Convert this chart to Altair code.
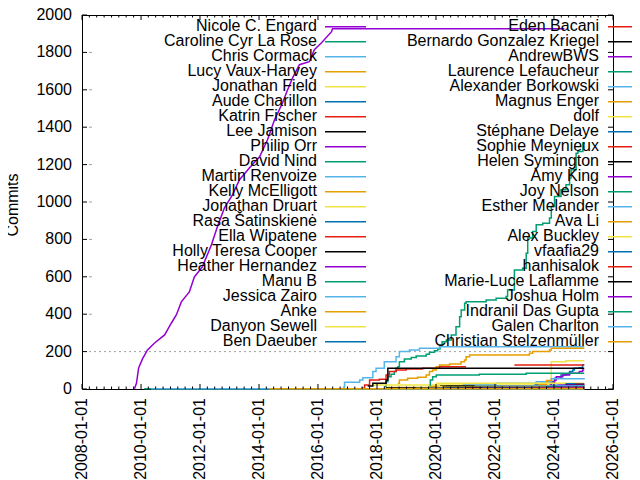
import altair as alt
import pandas as pd

# ---------------- data ----------------
NAMES = [
    "Nicole C. Engard", "Caroline Cyr La Rose", "Chris Cormack", "Lucy Vaux-Harvey",
    "Jonathan Field", "Aude Charillon", "Katrin Fischer", "Lee Jamison", "Philip Orr",
    "David Nind", "Martin Renvoize", "Kelly McElligott", "Jonathan Druart",
    "Rasa Šatinskienė", "Ella Wipatene", "Holly Teresa Cooper", "Heather Hernandez",
    "Manu B", "Jessica Zairo", "Anke", "Danyon Sewell", "Ben Daeuber",
    "Eden Bacani", "Bernardo Gonzalez Kriegel", "AndrewBWS", "Laurence Lefaucheur",
    "Alexander Borkowski", "Magnus Enger", "dolf", "Stéphane Delaye", "Sophie Meynieux",
    "Helen Symington", "Amy King", "Joy Nelson", "Esther Melander", "Ava Li",
    "Alex Buckley", "vfaafia29", "hanhisalok", "Marie-Luce Laflamme", "Joshua Holm",
    "Indranil Das Gupta", "Galen Charlton", "Christian Stelzenmüller",
]
PALETTE = ["#9400d3", "#009e73", "#56b4e9", "#e69f00",
           "#f0e442", "#0072b2", "#e51e10", "#000000"]

s_nicole = [("2009-10-12", 1), ("2009-11-06", 32), ("2009-12-02", 112), ("2010-01-19", 161),
            ("2010-03-22", 209), ("2010-06-18", 246), ("2010-10-20", 289), ("2011-01-12", 353),
            ("2011-03-14", 396), ("2011-05-15", 466), ("2011-08-22", 519), ("2011-10-23", 599),
            ("2012-01-30", 653), ("2012-05-22", 771), ("2012-08-03", 867), ("2012-10-30", 969),
            ("2013-02-06", 1038), ("2013-05-04", 1119), ("2013-09-06", 1183), ("2014-01-08", 1242),
            ("2014-04-16", 1333), ("2014-07-12", 1440), ("2014-10-20", 1531), ("2014-12-06", 1584),
            ("2015-02-21", 1664), ("2015-05-16", 1734), ("2015-09-16", 1750), ("2015-11-17", 1814),
            ("2016-02-14", 1852), ("2016-06-17", 1911), ("2016-06-29", 1927), ("2024-05-10", 1927)]
s_caroline = [("2018-04-01", 12), ("2018-04-23", 39), ("2018-05-15", 66), ("2018-06-24", 79),
              ("2018-08-03", 93), ("2018-08-25", 111), ("2018-09-16", 119), ("2018-10-05", 146),
              ("2018-12-06", 161), ("2019-03-01", 168), ("2019-05-01", 177), ("2019-09-02", 186),
              ("2019-10-12", 196), ("2019-12-13", 205), ("2020-01-22", 214), ("2020-02-20", 235),
              ("2020-03-17", 253), ("2020-05-08", 262), ("2020-07-08", 289), ("2020-09-05", 333),
              ("2020-10-20", 387), ("2020-11-08", 423), ("2020-12-21", 459), ("2021-01-08", 467),
              ("2021-09-13", 476), ("2022-01-15", 485), ("2022-05-18", 494), ("2022-06-06", 530),
              ("2022-08-29", 637), ("2022-12-09", 646), ("2023-01-22", 726), ("2023-02-10", 807),
              ("2023-04-12", 842), ("2023-05-26", 878), ("2023-08-15", 887), ("2023-11-07", 914),
              ("2023-11-29", 976), ("2024-01-08", 1029), ("2024-03-28", 1065), ("2024-05-29", 1092),
              ("2024-07-12", 1128), ("2024-07-31", 1172), ("2024-10-01", 1261), ("2024-10-23", 1270),
              ("2024-12-24", 1315), ("2025-01-10", 1317)]
s_chris = [("2016-11-03", 9), ("2016-11-25", 36), ("2017-05-31", 48), ("2017-07-09", 60),
           ("2017-11-10", 93), ("2017-12-20", 111), ("2018-04-01", 146), ("2018-08-25", 173),
           ("2018-10-05", 200), ("2019-02-06", 209), ("2019-06-10", 218), ("2020-02-14", 226),
           ("2025-01-10", 226)]
s_lucy = [("2018-09-16", 31), ("2018-10-05", 48), ("2019-01-15", 57), ("2019-05-18", 63),
          ("2019-09-02", 75), ("2019-10-12", 93), ("2019-11-21", 102), ("2020-01-04", 119),
          ("2020-02-14", 128), ("2020-06-17", 134), ("2020-11-06", 146), ("2020-12-20", 155),
          ("2021-01-08", 173), ("2021-02-20", 182), ("2023-03-03", 191), ("2023-04-12", 200),
          ("2023-11-07", 209), ("2023-11-29", 218), ("2025-01-10", 218)]
s_jfield = [("2017-11-10", 21), ("2023-11-29", 146), ("2024-05-29", 151), ("2025-01-10", 151)]
s_aude = [("2023-05-04", 21), ("2023-07-26", 31), ("2023-11-29", 39), ("2024-01-08", 57),
          ("2024-03-28", 75), ("2024-05-29", 79), ("2024-07-12", 93), ("2024-08-21", 102),
          ("2024-09-09", 111), ("2024-11-10", 114), ("2024-12-20", 130), ("2025-01-10", 130)]
s_katrin = [("2017-06-17", 4), ("2017-07-31", 21), ("2017-10-01", 48), ("2018-01-30", 52),
            ("2018-04-23", 75), ("2018-06-03", 93), ("2018-08-25", 102), ("2018-12-28", 107),
            ("2019-07-20", 111), ("2020-02-14", 119), ("2021-01-08", 119)]
s_katrin_late = [("2022-08-29", 128), ("2025-01-10", 128)]
s_lee = [("2017-09-08", 16), ("2017-11-10", 31), ("2018-04-23", 48), ("2018-05-15", 111),
         ("2025-01-10", 111)]
s_philip = [("2023-11-07", 21), ("2023-11-29", 31), ("2024-01-08", 48), ("2024-01-30", 66),
            ("2024-04-20", 75), ("2024-07-12", 84), ("2024-11-10", 93), ("2024-12-20", 102),
            ("2025-01-10", 102)]
s_david = [("2019-10-12", 12), ("2019-10-23", 48), ("2019-11-21", 66), ("2020-01-04", 75),
           ("2021-06-20", 79), ("2023-01-22", 84), ("2025-01-10", 84)]
s_martin = [("2020-11-28", 21), ("2022-01-15", 31), ("2023-05-26", 39), ("2023-11-29", 55),
            ("2025-01-10", 57)]
s_kelly = [("2023-04-10", 8), ("2023-07-01", 25), ("2023-10-01", 45), ("2023-12-15", 45)]
s_jdruart = [("2019-10-20", 10), ("2020-01-10", 31), ("2025-01-10", 31)]
s_rasa = [("2023-06-01", 5), ("2023-12-01", 20), ("2024-06-01", 28), ("2025-01-10", 28)]
s_ella = [("2023-05-01", 3), ("2024-02-01", 15), ("2024-10-01", 26), ("2025-01-10", 26)]
s_holly = [("2019-10-20", 3), ("2020-03-01", 17), ("2024-06-01", 22), ("2025-01-10", 22)]
s_heather = [("2019-11-01", 4), ("2020-06-01", 10), ("2022-01-01", 15), ("2024-03-01", 20),
             ("2025-01-10", 20)]
s_manu = [("2024-02-01", 6), ("2024-09-01", 18), ("2025-01-10", 18)]
s_jessica = [("2019-10-01", 2), ("2020-03-01", 12), ("2021-05-01", 16), ("2025-01-10", 16)]
s_anke = [("2017-02-01", 2), ("2018-05-01", 8), ("2019-11-01", 14), ("2020-05-01", 14)]
s_danyon = [("2019-11-01", 4), ("2020-02-01", 13), ("2023-12-01", 13)]
s_ben = [("2023-01-01", 3), ("2023-10-01", 12), ("2025-01-10", 12)]
s_eden = [("2023-04-01", 2), ("2024-05-01", 11), ("2025-01-10", 11)]
s_bernardo = [("2019-09-15", 4), ("2020-04-01", 10), ("2025-01-10", 10)]
s_andrew = [("2023-09-01", 3), ("2024-04-01", 9), ("2025-01-10", 9)]
s_laurence = [("2022-10-01", 2), ("2023-10-01", 8), ("2025-01-10", 8)]
s_alexander = [("2020-12-01", 3), ("2021-06-01", 8), ("2025-01-10", 8)]
s_magnus = [("2017-03-01", 2), ("2019-12-01", 7), ("2020-09-01", 7)]
s_dolf = [("2018-06-01", 3), ("2019-06-01", 6), ("2019-08-01", 6)]
s_stephane = [("2024-01-15", 6), ("2025-01-10", 6)]
s_sophie = [("2019-11-15", 2), ("2020-02-15", 5), ("2025-01-10", 5)]
s_helen = [("2017-11-01", 2), ("2018-05-01", 5), ("2025-01-10", 5)]
s_amy = [("2023-11-01", 4), ("2025-01-10", 4)]
s_joy = [("2019-10-10", 4), ("2021-01-10", 4)]
s_esther = [("2021-08-01", 3), ("2025-01-10", 3)]
s_ava = [("2024-04-01", 3), ("2025-01-10", 3)]
s_alexb = [("2019-05-01", 3), ("2020-05-01", 3)]
s_vfaafia = [("2023-05-01", 2), ("2025-01-10", 2)]
s_hanhi = [("2023-05-01", 4), ("2025-01-10", 4)]
s_marieluce = [("2020-01-01", 2), ("2025-01-10", 2)]
s_joshua = [("2019-11-01", 3), ("2025-01-10", 3)]
s_indranil = [("2010-02-10", 1), ("2025-01-10", 1)]
s_galen = [("2010-05-05", 1), ("2025-01-10", 1)]
s_christian = [("2014-05-10", 1), ("2025-01-10", 1)]

SERIES = [
    [s_nicole], [s_caroline], [s_chris], [s_lucy], [s_jfield], [s_aude],
    [s_katrin, s_katrin_late], [s_lee], [s_philip], [s_david], [s_martin], [s_kelly],
    [s_jdruart], [s_rasa], [s_ella], [s_holly], [s_heather], [s_manu], [s_jessica],
    [s_anke], [s_danyon], [s_ben], [s_eden], [s_bernardo], [s_andrew], [s_laurence],
    [s_alexander], [s_magnus], [s_dolf], [s_stephane], [s_sophie], [s_helen], [s_amy],
    [s_joy], [s_esther], [s_ava], [s_alexb], [s_vfaafia], [s_hanhi], [s_marieluce],
    [s_joshua], [s_indranil], [s_galen], [s_christian],
]
SMOOTH = ["Nicole C. Engard"]  # densely stepped curve, drawn through the read points

X_MAJOR_YEARS = list(range(2008, 2027, 2))
Y_TICKS = list(range(0, 2001, 200))
Y_TITLE = "Commits"

# ---------------- layout constants (pixels) ----------------
W, H = 531, 374
FONT = "Liberation Sans"
FS = 16

rows = []
for i, (name, segs) in enumerate(zip(NAMES, SERIES)):
    for j, seg in enumerate(segs):
        for d, c in seg:
            rows.append({"author": name, "series": f"{i:02d}-{j}", "date": d, "count": c})
df = pd.DataFrame(rows)
df["date"] = pd.to_datetime(df["date"])

colors = [PALETTE[i % 8] for i in range(len(NAMES))]
color_scale = alt.Scale(domain=NAMES, range=colors)

xscale = alt.Scale(domain=[alt.DateTime(year=2008, month=1, date=1),
                           alt.DateTime(year=2026, month=1, date=1)], nice=False)
yscale = alt.Scale(domain=[0, 2000], nice=False)

enc = dict(
    x=alt.X("date:T", scale=xscale, axis=None),
    y=alt.Y("count:Q", scale=yscale, axis=None),
    color=alt.Color("author:N", scale=color_scale, legend=None),
    detail="series:N",
)
base = alt.Chart(df)
smooth_filter = alt.FieldOneOfPredicate(field="author", oneOf=SMOOTH)
lines_step = base.transform_filter(~alt.Predicate(smooth_filter)).mark_line(
    interpolate="step-after", strokeWidth=1.5).encode(**enc)
lines_smooth = base.transform_filter(smooth_filter).mark_line(
    interpolate="linear", strokeWidth=1.5).encode(**enc)

# grid (gnuplot style): full dotted line at 200, short stubs at others
grid_full = alt.Chart(pd.DataFrame({"v": [200]})).mark_rule(
    color="#a0a0a0", strokeWidth=1, strokeDash=[2, 3]).encode(
    y=alt.Y("v:Q", scale=yscale, axis=None), x=alt.value(7), x2=alt.value(W))
grid_stub = alt.Chart(pd.DataFrame({"v": Y_TICKS[2:-1]})).mark_rule(
    color="#a0a0a0", strokeWidth=1).encode(
    y=alt.Y("v:Q", scale=yscale, axis=None), x=alt.value(7), x2=alt.value(10))

# inward ticks (border ticks, mirrored)
major_dates = pd.to_datetime([f"{y}-01-01" for y in X_MAJOR_YEARS])
minor_dates = pd.to_datetime([f"{y}-{m:02d}-01" for y in range(2008, 2026)
                              for m in (1, 4, 7, 10) if not (m == 1 and y % 2 == 0)])
xmaj = pd.DataFrame({"d": major_dates, "lab": [f"{y}-01-01" for y in X_MAJOR_YEARS]})
xmin = pd.DataFrame({"d": minor_dates})


def xticks(data, y1, y2):
    return alt.Chart(data).mark_rule(color="black", strokeWidth=1).encode(
        x=alt.X("d:T", scale=xscale, axis=None), y=alt.value(y1), y2=alt.value(y2))


ydf = pd.DataFrame({"v": Y_TICKS, "lab": [str(v) for v in Y_TICKS]})


def yticks(x1, x2):
    return alt.Chart(ydf).mark_rule(color="black", strokeWidth=1).encode(
        y=alt.Y("v:Q", scale=yscale, axis=None), x=alt.value(x1), x2=alt.value(x2))


ticks = [xticks(xmaj, H, H - 5), xticks(xmin, H, H - 2.5), xticks(xmaj, 0, 5),
         xticks(xmin, 0, 2.5), yticks(0, 5), yticks(W, W - 5)]

# tick labels and axis title
xlabels = alt.Chart(xmaj).mark_text(angle=270, align="right", baseline="middle", font=FONT,
                                    fontSize=FS, color="black").encode(
    x=alt.X("d:T", scale=xscale, axis=None), y=alt.value(H + 9), text="lab:N")
ylabels = alt.Chart(ydf).mark_text(align="right", baseline="middle", font=FONT,
                                   fontSize=FS, color="black").encode(
    y=alt.Y("v:Q", scale=yscale, axis=None), x=alt.value(-10), text="lab:N")
ytitle = alt.Chart(pd.DataFrame({"t": [Y_TITLE]})).mark_text(
    angle=270, align="center", baseline="middle", font=FONT, fontSize=FS, color="black").encode(
    x=alt.value(-69), y=alt.value(190), text="t:N")

# manual gnuplot-like key (two columns inside plot)
leg_rows = []
for i, name in enumerate(NAMES):
    col, r = divmod(i, 22)
    leg_rows.append({
        "author": name,
        "tx": 235 if col == 0 else 517,
        "ty": 11 + 15 * r,
        "lx1": 243 if col == 0 else 526,
        "lx2": 284 if col == 0 else 575,
        "ly": 11.7 + 15 * r,
    })
leg = pd.DataFrame(leg_rows)

leg_text = alt.Chart(leg).mark_text(align="right", baseline="middle", font=FONT,
                                    fontSize=FS, color="black").encode(
    x=alt.X("tx:Q", scale=None, axis=None), y=alt.Y("ty:Q", scale=None, axis=None),
    text="author:N")
leg_line = alt.Chart(leg).mark_rule(strokeWidth=1.5).encode(
    x=alt.X("lx1:Q", scale=None, axis=None), x2="lx2:Q",
    y=alt.Y("ly:Q", scale=None, axis=None),
    color=alt.Color("author:N", scale=color_scale, legend=None))

chart = alt.layer(grid_full, grid_stub, lines_smooth, lines_step, *ticks,
                  xlabels, ylabels, ytitle, leg_text, leg_line).properties(
    width=W, height=H,
    autosize=alt.AutoSizeParams(type="none"),
    padding={"left": 74, "top": 7, "right": 19, "bottom": 91},
    background="white",
).configure_view(stroke="black", strokeWidth=1)

chart.save("out.html", embed_options={"renderer": "svg", "actions": False})
